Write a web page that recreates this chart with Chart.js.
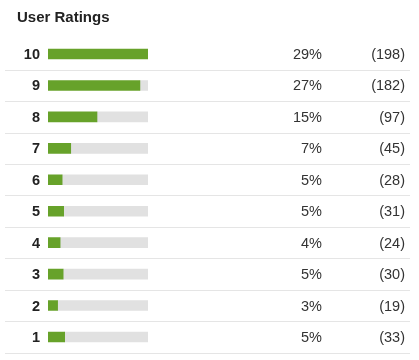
<!DOCTYPE html>
<html>
<head>
<meta charset="utf-8">
<script src="https://cdn.jsdelivr.net/npm/chart.js@4"></script>
<style>
  html, body { margin: 0; padding: 0; background: #fff; }
  #wrap { position: relative; width: 419px; height: 360px; }
</style>
</head>
<body>
<div id="wrap"><canvas id="c" width="419" height="360"></canvas></div>
<script>
const title = "User Ratings";
const ratings = ["10", "9", "8", "7", "6", "5", "4", "3", "2", "1"];
const counts = [198, 182, 97, 45, 28, 31, 24, 30, 19, 33];
const percents = ["29%", "27%", "15%", "7%", "5%", "5%", "4%", "5%", "3%", "5%"];

const maxCount = Math.max(...counts);
const remainder = counts.map(v => maxCount - v);

const FONT = '"Liberation Sans", Arial, Helvetica, sans-serif';

const textPlugin = {
  id: 'rowText',
  beforeDatasetsDraw(chart) {
    const ctx = chart.ctx;
    const y = chart.scales.y;
    ctx.save();
    ctx.strokeStyle = '#e5e5e5';
    ctx.lineWidth = 1;
    ratings.forEach((r, i) => {
      const c = y.getPixelForValue(i);
      const half = (y.getPixelForValue(1) - y.getPixelForValue(0)) / 2;
      const ly = Math.round(c + half) + 0.5;
      ctx.beginPath();
      ctx.moveTo(5, ly);
      ctx.lineTo(410, ly);
      ctx.stroke();
    });
    ctx.restore();
  },
  afterDatasetsDraw(chart) {
    const ctx = chart.ctx;
    const y = chart.scales.y;
    ctx.save();
    ctx.textBaseline = 'alphabetic';
    ctx.fillStyle = '#222';
    ctx.font = 'bold 15px ' + FONT;
    ctx.textAlign = 'left';
    ctx.fillText(title, 17, 22);
    ratings.forEach((r, i) => {
      const c = y.getPixelForValue(i);
      ctx.font = 'bold 14.5px ' + FONT;
      ctx.fillStyle = '#222';
      ctx.textAlign = 'right';
      ctx.fillText(r, 40, c + 5);
      ctx.font = '14.5px ' + FONT;
      ctx.fillStyle = '#333';
      ctx.fillText(percents[i], 322, c + 5);
      ctx.fillText('(' + counts[i] + ')', 405, c + 5);
    });
    ctx.restore();
  }
};

new Chart(document.getElementById('c'), {
  type: 'bar',
  data: {
    labels: ratings,
    datasets: [
      { data: counts, backgroundColor: '#67a22a', barThickness: 10, borderWidth: 0 },
      { data: remainder, backgroundColor: '#e1e1e1', barThickness: 10, borderWidth: 0 }
    ]
  },
  options: {
    indexAxis: 'y',
    responsive: false,
    animation: false,
    events: [],
    layout: { padding: { left: 48, right: 271, top: 38.3, bottom: 7.3 } },
    plugins: { legend: { display: false }, tooltip: { enabled: false }, title: { display: false } },
    scales: {
      x: { display: false, stacked: true, min: 0, max: maxCount },
      y: { display: false, stacked: true, offset: true }
    }
  },
  plugins: [textPlugin]
});
</script>
</body>
</html>
